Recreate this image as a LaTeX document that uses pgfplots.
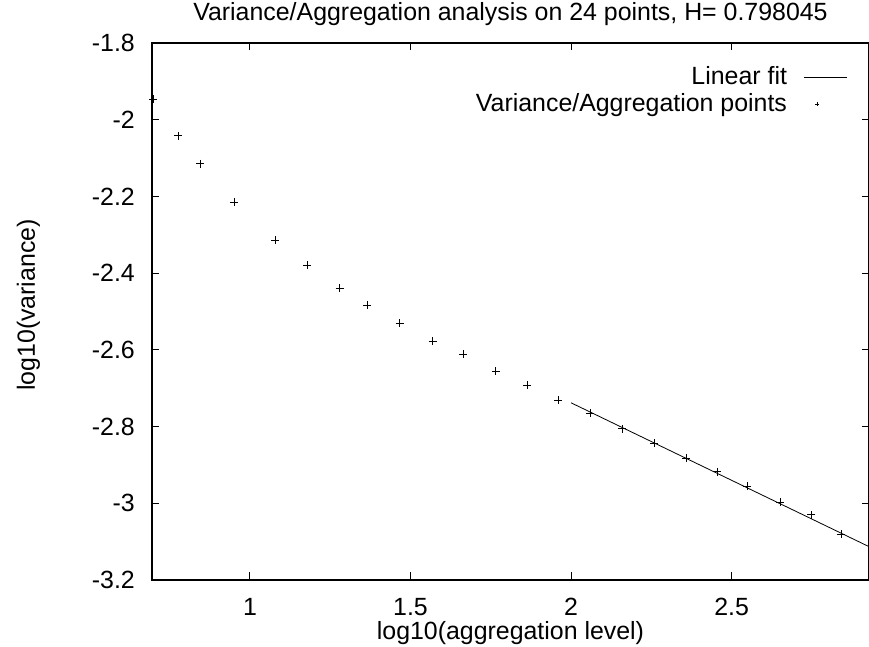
\documentclass[border=0pt]{standalone}
\usepackage{fontspec}
\setmainfont{Liberation Sans}
\usepackage{pgfplots}
\pgfplotsset{compat=1.18}
\begin{document}
\fontsize{25}{29}\selectfont
\begin{tikzpicture}
\begin{axis}[
  scale only axis,
  width=717bp, height=537bp,
  xmin=0.695, xmax=2.928,
  ymin=-3.2, ymax=-1.8,
  clip=false,
  axis line style={line width=1.1bp},
  tick style={line width=1bp, black},
  tick align=inside,
  major tick length=7.5bp,
  xtick={1,1.5,2,2.5},
  xticklabels={1,1.5,2,2.5},
  ytick={-3.2,-3,-2.8,-2.6,-2.4,-2.2,-2,-1.8},
  yticklabels={-3.2,-3,-2.8,-2.6,-2.4,-2.2,-2,-1.8},
  font=\fontsize{25}{29}\selectfont,
  xticklabel style={inner sep=0pt, anchor=base, yshift=-35bp},
  yticklabel style={inner sep=0pt, xshift=-17bp},
  title={Variance/Aggregation analysis on 24 points, H= 0.798045},
  title style={at={(axis description cs:0.5,1)}, anchor=base, inner sep=0pt, yshift=16.3bp},
  xlabel={log10(aggregation level)},
  xlabel style={at={(axis description cs:0.5,0)}, anchor=base, inner sep=0pt, yshift=-59bp},
  ylabel={log10(variance)},
  ylabel style={at={([xshift=-117bp]axis description cs:0,0.512)}, anchor=base, inner sep=0pt},
  legend cell align=right,
  legend plot pos=right,
  legend style={draw=none, fill=none, inner sep=0pt, anchor=north east,
    at={([xshift=-21bp,yshift=-23bp]rel axis cs:1,1)},
    nodes={inner sep=0pt}, row sep=5bp, column sep=0pt,
    font=\fontsize{25}{29}\selectfont},
]
\addplot[black, line width=0.8bp, no markers,
  legend image code/.code={\draw[black, line width=0.8bp] (0bp,0bp) -- (43bp,0bp);}]
  coordinates {(2.0,-2.738) (2.928,-3.113)};
\addlegendentry{Linear fit\rule{17bp}{0pt}}
\addplot[only marks, mark=+, mark size=4bp, black, line width=0.8bp,
  legend image code/.code={\path[draw=none] (0bp,0bp) -- (43bp,0bp); \draw[black, line width=0.7bp] (11bp,0bp) -- (15bp,0bp) (13bp,-2bp) -- (13bp,2bp);}]
  coordinates {
  (0.699,-1.946) (0.776,-2.042) (0.845,-2.115) (0.951,-2.215) (1.079,-2.314)
  (1.179,-2.379) (1.279,-2.439) (1.366,-2.483) (1.466,-2.530) (1.569,-2.577)
  (1.664,-2.611) (1.766,-2.655) (1.863,-2.692) (1.960,-2.731) (2.059,-2.765)
  (2.159,-2.806) (2.259,-2.843) (2.358,-2.882) (2.455,-2.918) (2.548,-2.955)
  (2.651,-2.997) (2.748,-3.030) (2.841,-3.080)
  };
\addlegendentry{Variance/Aggregation points\rule{17bp}{0pt}}
\end{axis}
\pgfresetboundingbox
\path[use as bounding box] ([xshift=-152bp,yshift=-67bp]current axis.south west) rectangle ([yshift=43bp]current axis.north east);
\end{tikzpicture}
\end{document}
